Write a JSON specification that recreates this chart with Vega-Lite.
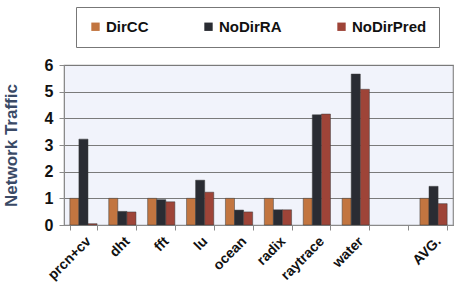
{
  "$schema": "https://vega.github.io/schema/vega-lite/v6.json",
  "width": 389,
  "height": 160,
  "autosize": {"type": "none"},
  "padding": {"left": 64, "top": 65, "right": 3, "bottom": 78},
  "background": "white",
  "config": {
    "view": {"stroke": "#8a8a8a", "strokeWidth": 1.2, "fill": "#f1f3fb"},
    "font": "Liberation Sans"
  },
  "data": {
    "values": [
      {"bench": "prcn+cv", "scheme": "DirCC", "v": 1.0},
      {"bench": "prcn+cv", "scheme": "NoDirRA", "v": 3.22},
      {"bench": "prcn+cv", "scheme": "NoDirPred", "v": 0.05},
      {"bench": "dht", "scheme": "DirCC", "v": 1.0},
      {"bench": "dht", "scheme": "NoDirRA", "v": 0.51},
      {"bench": "dht", "scheme": "NoDirPred", "v": 0.49},
      {"bench": "fft", "scheme": "DirCC", "v": 1.0},
      {"bench": "fft", "scheme": "NoDirRA", "v": 0.95},
      {"bench": "fft", "scheme": "NoDirPred", "v": 0.87},
      {"bench": "lu", "scheme": "DirCC", "v": 1.0},
      {"bench": "lu", "scheme": "NoDirRA", "v": 1.68},
      {"bench": "lu", "scheme": "NoDirPred", "v": 1.23},
      {"bench": "ocean", "scheme": "DirCC", "v": 1.0},
      {"bench": "ocean", "scheme": "NoDirRA", "v": 0.56},
      {"bench": "ocean", "scheme": "NoDirPred", "v": 0.49},
      {"bench": "radix", "scheme": "DirCC", "v": 1.0},
      {"bench": "radix", "scheme": "NoDirRA", "v": 0.57},
      {"bench": "radix", "scheme": "NoDirPred", "v": 0.57},
      {"bench": "raytrace", "scheme": "DirCC", "v": 1.0},
      {"bench": "raytrace", "scheme": "NoDirRA", "v": 4.13},
      {"bench": "raytrace", "scheme": "NoDirPred", "v": 4.16},
      {"bench": "water", "scheme": "DirCC", "v": 1.0},
      {"bench": "water", "scheme": "NoDirRA", "v": 5.66},
      {"bench": "water", "scheme": "NoDirPred", "v": 5.09},
      {"bench": "AVG.", "scheme": "DirCC", "v": 1.0},
      {"bench": "AVG.", "scheme": "NoDirRA", "v": 1.45},
      {"bench": "AVG.", "scheme": "NoDirPred", "v": 0.8}
    ]
  },
  "mark": {"type": "bar", "stroke": "#3a3a3a", "strokeWidth": 0.5},
  "encoding": {
    "x": {
      "field": "bench",
      "type": "nominal",
      "sort": null,
      "scale": {
        "domain": ["prcn+cv", "dht", "fft", "lu", "ocean", "radix", "raytrace", "water", " ", "AVG."],
        "paddingInner": 0.3,
        "paddingOuter": 0.15
      },
      "axis": {
        "title": null,
        "labelAngle": -45,
        "labelFont": "Liberation Sans",
        "labelFontSize": 14,
        "labelFontWeight": "bold",
        "labelColor": "#111",
        "labelPadding": 4,
        "tickBand": "extent",
        "tickColor": "#8a8a8a",
        "tickSize": 5,
        "domainColor": "#8a8a8a",
        "grid": false
      }
    },
    "xOffset": {"field": "scheme", "type": "nominal", "sort": ["DirCC", "NoDirRA", "NoDirPred"], "scale": {"paddingInner": 0, "paddingOuter": 0}},
    "y": {
      "field": "v",
      "type": "quantitative",
      "scale": {"domain": [0, 6], "nice": false},
      "axis": {
        "title": "Network Traffic",
        "titleFont": "Liberation Sans",
        "titleFontSize": 17,
        "titleFontWeight": "bold",
        "titleColor": "#3a4a66",
        "titlePadding": 24,
        "values": [0, 1, 2, 3, 4, 5, 6],
        "labelFont": "Liberation Sans",
        "labelFontSize": 16,
        "labelFontWeight": "bold",
        "labelColor": "#111",
        "labelPadding": 6,
        "tickColor": "#8a8a8a",
        "tickSize": 5,
        "domainColor": "#8a8a8a",
        "gridColor": "#7a7a7a",
        "gridWidth": 1
      }
    },
    "color": {
      "field": "scheme",
      "type": "nominal",
      "sort": ["DirCC", "NoDirRA", "NoDirPred"],
      "scale": {"domain": ["DirCC", "NoDirRA", "NoDirPred"], "range": ["#c27540", "#2a2c33", "#9e4438"]},
      "legend": {
        "title": null,
        "orient": "none",
        "legendX": 12,
        "legendY": -58,
        "direction": "horizontal",
        "columns": 3,
        "columnPadding": 52,
        "symbolType": "square",
        "symbolSize": 70,
        "symbolStrokeWidth": 0,
        "labelFont": "Liberation Sans",
        "labelFontSize": 15,
        "labelFontWeight": "bold",
        "labelColor": "#111",
        "labelOffset": 3,
        "strokeColor": "#777",
        "fillColor": "white",
        "padding": 12
      }
    }
  }
}
